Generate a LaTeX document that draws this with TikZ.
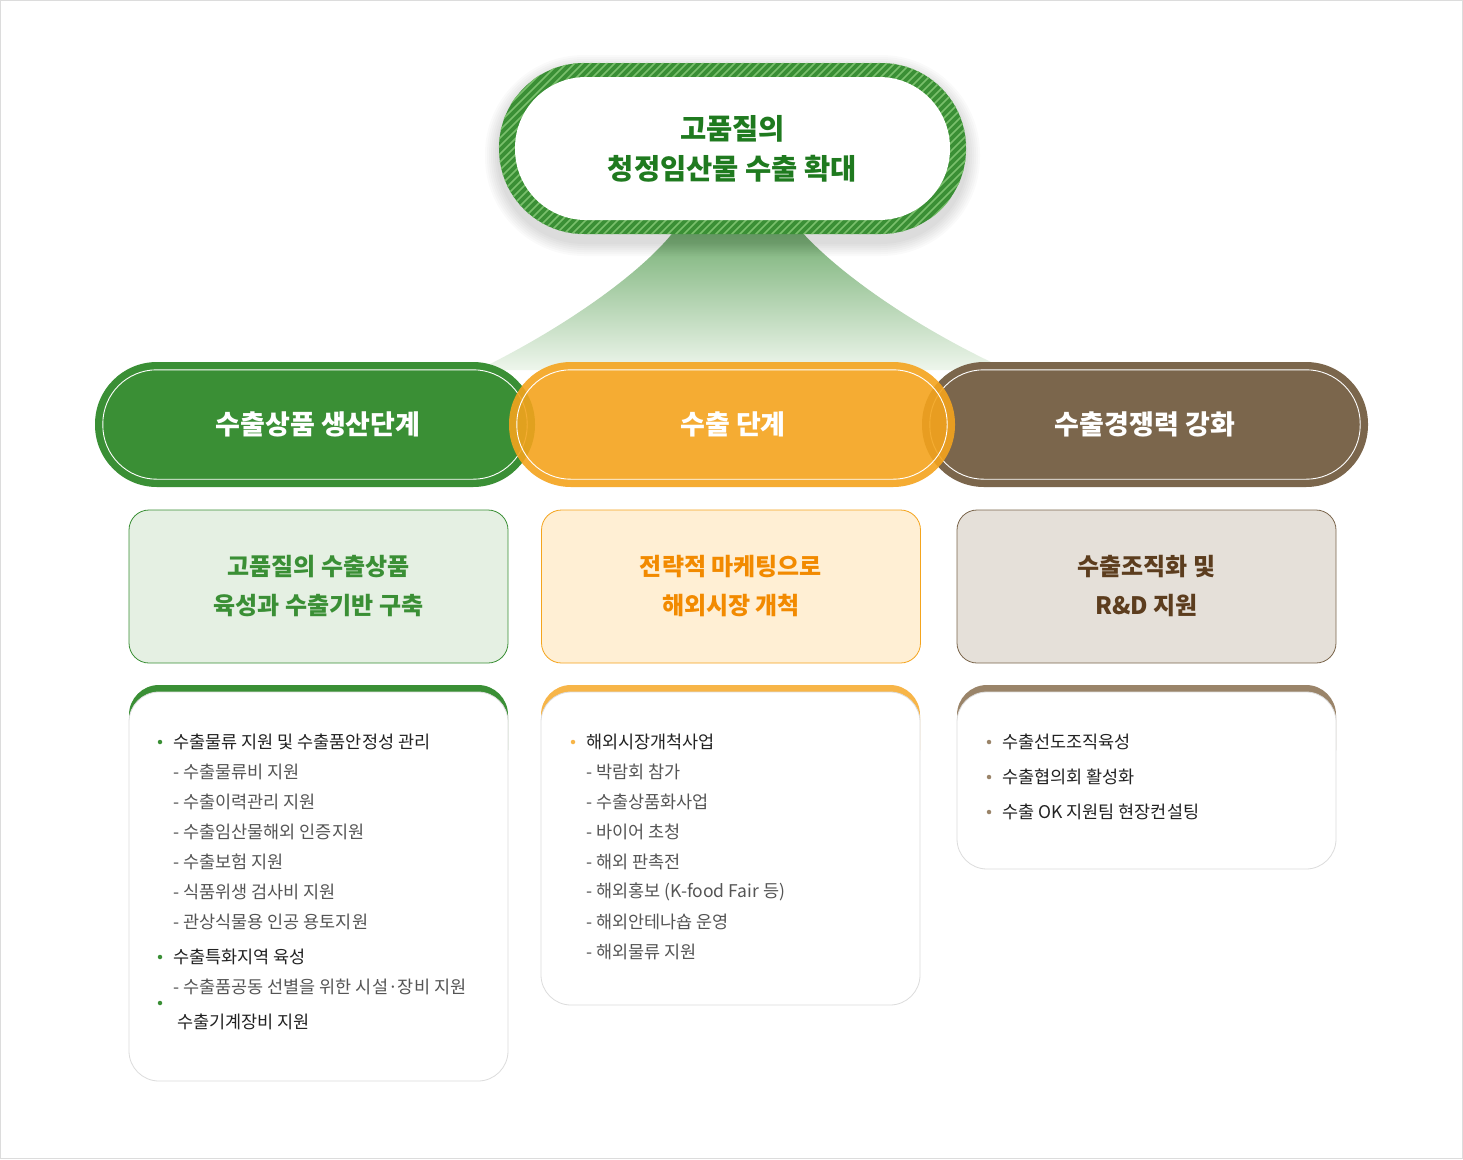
\documentclass[tikz,border=0pt]{standalone}
\usepackage{fontspec}
\setmainfont{Noto Sans CJK KR}
\usetikzlibrary{positioning}
\definecolor{ExpGreen}{RGB}{58,143,53}
\definecolor{ExpGreenText}{RGB}{31,122,31}
\definecolor{ExpStripe}{RGB}{122,192,108}
\definecolor{ExpOrange}{RGB}{244,164,29}
\definecolor{ExpOrangeBar}{RGB}{247,181,72}
\definecolor{ExpOrangeText}{RGB}{242,138,0}
\definecolor{ExpBrown}{RGB}{123,102,76}
\definecolor{ExpBrownBar}{RGB}{154,132,105}
\definecolor{ExpBrownText}{RGB}{92,61,30}
\definecolor{GreenPale}{RGB}{229,240,227}
\definecolor{OrangePale}{RGB}{255,239,212}
\definecolor{BrownPale}{RGB}{229,224,217}
\definecolor{FanTop}{RGB}{118,176,116}
\definecolor{FanBottom}{RGB}{238,246,236}
\definecolor{BoxLine}{RGB}{220,220,220}
\definecolor{MainText}{RGB}{34,34,34}
\definecolor{SubText}{RGB}{85,85,85}
\tikzset{
  stage/.style={rectangle, rounded corners=62pt, minimum height=125pt, inner sep=0pt},
  stagetext/.style={text=white, font=\fontsize{27}{32}\selectfont\bfseries},
  goalbox/.style={rectangle, rounded corners=20pt, minimum width=379pt, minimum height=153pt,
    align=center, line width=0.8pt, font=\fontsize{24}{39}\selectfont\bfseries},
  listbox/.style={rectangle, rounded corners=30pt, draw=BoxLine, fill=white, line width=0.8pt,
    minimum width=379pt},
  mainitem/.style={anchor=west, inner sep=0pt, text=MainText, font=\fontsize{17.5}{20}\selectfont},
  subitem/.style={mainitem, text=SubText},
  itemdot/.style={circle, fill=#1, inner sep=0pt, minimum size=4.5pt},
  innerline/.style={draw=white, line width=0.9pt, rounded corners=54pt}
}

\begin{document}
\begin{tikzpicture}[x=1pt,y=-1pt]
			\useasboundingbox (0,0) rectangle (1463,1159);
			\draw[BoxLine, fill=white] (0.5,0.5) rectangle (1462.5,1158.5);

			\shade[top color=FanTop, bottom color=FanBottom] (675,230) .. controls (640,275) and (560,330) .. (478,370)
			-- (1008,370) .. controls (920,330) and (840,275) .. (800,230) -- cycle;

			\foreach \k in {14,12,...,2}
				\fill[black, opacity=0.018, rounded corners=85pt+\k pt] (499-\k,69-\k) rectangle (966+\k,242+\k);
			\node[rectangle, rounded corners=85pt, minimum width=467pt, minimum height=171pt, fill=ExpGreen] (goal) at (732.5,148.5) {};
			\begin{scope}
				\clip[rounded corners=85pt] (goal.north west) rectangle (goal.south east);
				\foreach \s in {310,318,...,990}
					\draw[ExpStripe, line width=1.5pt] (\s,240) -- (\s+180,60);
			\end{scope}
			\node[rectangle, rounded corners=71pt, minimum width=435pt, minimum height=143pt, fill=white,
			align=center, text=ExpGreenText, font=\fontsize{28.5}{40}\selectfont\bfseries] (goaltext) at (goal) {고품질의\\청정임산물 수출 확대};

			\node[stage, fill=ExpGreen, minimum width=440pt] (prod) at (315,424.5) {};
			\draw[innerline] ([shift={(8,8)}]prod.north west) rectangle ([shift={(-8,-8)}]prod.south east);
			\node[stage, fill=ExpBrown, minimum width=446pt] (comp) at (1145,424.5) {};
			\draw[innerline] ([shift={(8,8)}]comp.north west) rectangle ([shift={(-8,-8)}]comp.south east);
			\node[stage, fill=ExpOrange, fill opacity=0.9, minimum width=446pt] (exp) at (732,424.5) {};
			\draw[innerline] ([shift={(8,8)}]exp.north west) rectangle ([shift={(-8,-8)}]exp.south east);
			\node[stagetext] (prodtext) at (318,424.5) {수출상품 생산단계};
			\node[stagetext] (exptext) at (733,424.5) {수출 단계};
			\node[stagetext] (comptext) at (1145,424.5) {수출경쟁력 강화};

			\node[goalbox, fill=GreenPale, draw=ExpGreen, text=ExpGreen] (prodgoal) at (318.5,586.5) {고품질의 수출상품\\육성과 수출기반 구축};
			\node[goalbox, fill=OrangePale, draw=ExpOrange, text=ExpOrangeText] (expgoal) at (731,586.5) {전략적 마케팅으로\\해외시장 개척};
			\node[goalbox, fill=BrownPale, draw=ExpBrown, text=ExpBrownText] (compgoal) at (1146.5,586.5) {수출조직화 및\\R\&D 지원};

			\fill[ExpGreen, rounded corners=30pt] (129,685) rectangle (508,780);
			\node[listbox, minimum height=389pt] (prodlist) at (318.5,886.5) {};
			\fill[ExpOrangeBar, rounded corners=30pt] (541,685) rectangle (920,780);
			\node[listbox, minimum height=313pt] (explist) at (730.5,848.5) {};
			\fill[ExpBrownBar, rounded corners=30pt] (957,685) rectangle (1336,780);
			\node[listbox, minimum height=177pt] (complist) at (1146.5,780.5) {};

			\node[itemdot=ExpGreen] (pb1) at (160,742) {};
			\node[mainitem] (pm1) at (173,742) {수출물류 지원 및 수출품안정성 관리};
			\foreach \y/\t [count=\i] in {772/수출물류비 지원, 802/수출이력관리 지원, 832/수출임산물해외 인증지원,
				862/수출보험 지원, 892/식품위생 검사비 지원, 922/관상식물용 인공 용토지원}
				\node[subitem] (ps\i) at (173,\y) {- \t};
			\node[itemdot=ExpGreen] (pb2) at (160,957) {};
			\node[mainitem] (pm2) at (173,957) {수출특화지역 육성};
			\node[subitem] (ps7) at (173,987) {- 수출품공동 선별을 위한 시설·장비 지원};
			\node[itemdot=ExpGreen] (pb3) at (160,1003) {};
			\node[mainitem] (pm3) at (177,1022) {수출기계장비 지원};

			\node[itemdot=ExpOrangeBar] (eb1) at (573,742) {};
			\node[mainitem] (em1) at (586,742) {해외시장개척사업};
			\foreach \y/\t [count=\i] in {772/박람회 참가, 802/수출상품화사업, 832/바이어 초청, 862/해외 판촉전,
				892/해외홍보 (K-food Fair 등), 922/해외안테나숍 운영, 952/해외물류 지원}
				\node[subitem] (es\i) at (586,\y) {- \t};

			\foreach \y/\t [count=\i] in {742/수출선도조직육성, 777/수출협의회 활성화, 812/수출 OK 지원팀 현장컨설팅}
			{
				\node[itemdot=ExpBrownBar] (cb\i) at (989,\y) {};
				\node[mainitem] (cm\i) at (1002,\y) {\t};
			}
		\end{tikzpicture}
\end{document}
